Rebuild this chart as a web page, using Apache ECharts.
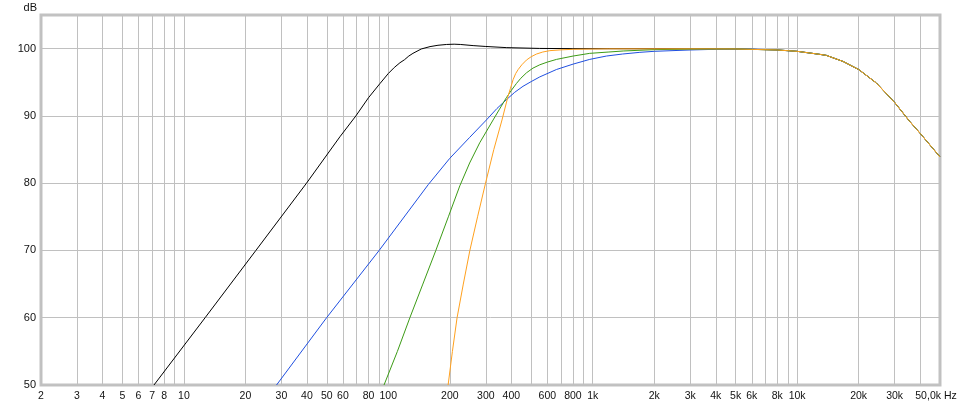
<!DOCTYPE html>
<html>
<head>
<meta charset="utf-8">
<script src="https://cdn.jsdelivr.net/npm/echarts@6/dist/echarts.min.js"></script>
<style>
html,body{margin:0;padding:0;background:#fff;}
#chart{width:960px;height:406px;}
</style>
</head>
<body>
<div id="chart"></div>
<script>
// vertical grid frequencies (Hz)
const gridFreqs = [2,3,4,5,6,7,8,9,10,20,30,40,50,60,70,80,90,100,200,300,400,500,600,700,800,900,
  1000,2000,3000,4000,5000,6000,7000,8000,9000,10000,20000,30000,40000,50000];
// labelled frequencies and their texts
const labelFreqs = [2,3,4,5,6,7,8,10,20,30,40,50,60,80,100,200,300,400,600,800,1000,2000,3000,4000,5000,6000,8000,10000,20000,30000,50000];
const labelTexts = ['2','3','4','5','6','7','8','10','20','30','40','50','60','80','100','200','300','400','600','800','1k','2k','3k','4k','5k','6k','8k','10k','20k','30k','50,0k Hz'];
const dbTicks = [50,60,70,80,90,100];

// common high-frequency roll-off (Hz, dB)
const hfTail = [[8000,99.8],[10000,99.6],[12900,99.15],[13900,99.0],[15000,98.63],[16760,98.1],[20000,96.9],[24400,94.9],[30000,92.0],[35500,89.2],[40000,87.4],[50000,83.9]];

const blackPts = [[7.14,50],[12.7,60],[22.5,70],[39.8,80],[58,86.9],[69.4,90],[80,92.7],[91,94.8],[100,96.3],[107,97.2],[114,97.9],[120,98.35],[126,98.9],[132,99.3],[145,99.95],[160,100.3],[175,100.5],[193,100.62],[210,100.66],[225,100.62],[260,100.45],[300,100.32],[380,100.15],[550,100.03],[800,100],[2000,99.98],[5000,99.95]];
const bluePts = [[28.4,50],[49.9,60],[90.2,70],[157,79.8],[200,83.7],[250,86.8],[302,89.4],[340,91.1],[378,92.4],[415,93.5],[456,94.4],[500,95.1],[551,95.8],[665,96.9],[802,97.7],[967,98.4],[1167,98.9],[1400,99.2],[1700,99.45],[2000,99.6],[3000,99.8],[4000,99.9],[6000,99.93]];
const greenPts = [[95.3,50],[110.8,55],[127.5,60],[147.6,65],[170.8,70],[196.7,75],[223.8,79.6],[250,83.0],[280,86.0],[325.7,89.4],[350,91.0],[378,92.7],[400,93.8],[423,94.8],[445,95.6],[474,96.4],[510,97.1],[551,97.6],[600,98.0],[665,98.4],[802,98.9],[967,99.3],[1200,99.5],[1410,99.65],[2000,99.85],[3000,99.93],[5000,99.95]];
const orangePts = [[196.2,50],[205.9,55],[217,60],[232.8,65],[250.6,70],[273.3,75],[299,80],[328.2,85],[360,89.4],[385,92.9],[396,94.1],[408,95.4],[420,96.3],[432,96.9],[450,97.6],[474,98.3],[500,98.8],[531,99.2],[570,99.5],[617,99.7],[700,99.82],[800,99.9],[1200,99.97],[3000,99.97],[5000,99.95]];

const chart = echarts.init(document.getElementById('chart'), null, {renderer:'canvas'});
const font = 'Liberation Sans, Arial, sans-serif';
function mk(name, pts, color){
  return {
    name: name, type:'line', data: pts.concat(hfTail), showSymbol:false, symbol:'none',
    smooth:false, clip:true,
    lineStyle:{color:color, width:1}, itemStyle:{color:color}, silent:true, animation:false
  };
}
chart.setOption({
  animation:false,
  backgroundColor:'#ffffff',
  grid:{left:41, right:20, top:15, bottom:21, show:true, borderColor:'#c2c2c2', borderWidth:3, backgroundColor:'#fff', containLabel:false, outerBoundsMode:'none'},
  xAxis:{
    type:'log', logBase:10, min:2, max:50000,
    axisLine:{show:false},
    axisTick:{show:false, customValues:gridFreqs},
    axisLabel:{show:true, customValues:labelFreqs, color:'#111', fontFamily:font, fontSize:10.5, margin:6, hideOverlap:false,
      formatter:function(v){
        const i = labelFreqs.findIndex(f=>Math.abs(f-v)/f<1e-6);
        if(i<0) return '';
        return i===labelFreqs.length-1 ? '{e|'+labelTexts[i]+'}' : labelTexts[i];
      },
      rich:{e:{fontFamily:font, fontSize:10.5, color:'#111', padding:[0,8,0,0]}}
    },
    splitLine:{show:true, lineStyle:{color:'#c0c0c0', width:1}},
    minorSplitLine:{show:false}
  },
  yAxis:{
    type:'value', min:50, max:105, interval:10,
    name:'dB', nameLocation:'end', nameGap:2,
    nameTextStyle:{color:'#111', fontFamily:font, fontSize:11, align:'right', padding:[0,4,0,0]},
    axisLine:{show:false},
    axisTick:{show:false, customValues:dbTicks},
    axisLabel:{customValues:dbTicks, color:'#111', fontFamily:font, fontSize:11, margin:5},
    splitLine:{show:true, lineStyle:{color:'#c0c0c0', width:1}}
  },
  series:[
    mk('black', blackPts, '#000000'),
    mk('blue', bluePts, '#1f4fe0'),
    mk('green', greenPts, '#3c9b16'),
    mk('orange', orangePts, '#ffa01e')
  ]
});
</script>
</body>
</html>
